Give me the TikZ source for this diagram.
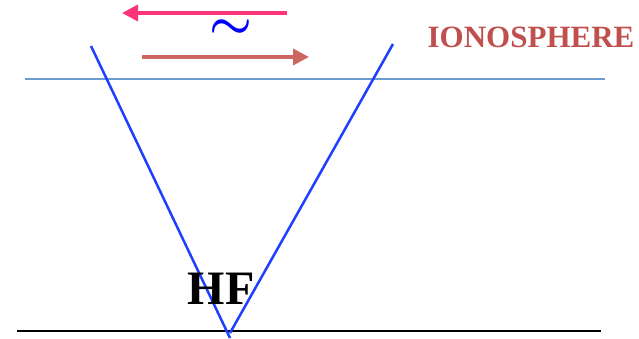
\documentclass[tikz,border=0pt]{standalone}
\usepackage{fontspec}
\setmainfont{Liberation Serif}
\usetikzlibrary{arrows.meta}
\definecolor{ionoblue}{HTML}{6B9BD1}
\definecolor{rayblue}{HTML}{1F3FFF}
\definecolor{wavepink}{HTML}{FF3377}
\definecolor{wavered}{HTML}{CD6660}
\definecolor{labelred}{HTML}{C0504D}

\begin{document}
\begin{tikzpicture}[x=1pt, y=-1pt,
    wave/.style={line width=3.5pt, -{Triangle[length=16pt, width=16pt]}}]
  \useasboundingbox (0, 0) rectangle (639, 339);
  \coordinate (I_1) at (25, 79);
  \coordinate (I_2) at (605, 79);
  \coordinate (G_1) at (17, 331);
  \coordinate (G_2) at (601, 331);
  \coordinate (L) at (91, 46);
  \coordinate (L_end) at (230, 338);
  \coordinate (R) at (393, 44);
  \coordinate (R_end) at (230, 333);
  \coordinate (P_1) at (287, 13);
  \coordinate (P_2) at (122, 13);
  \coordinate (Q_1) at (142, 57);
  \coordinate (Q_2) at (309, 57);

  \draw[ionoblue, line width=2.2pt] (I_1) -- (I_2);
  \draw[black, line width=2.5pt] (G_1) -- (G_2);
  \draw[rayblue, line width=2.5pt] (L) -- (L_end);
  \draw[rayblue, line width=2.5pt] (R) -- (R_end);
  \draw[wave, wavepink] (P_1) -- (P_2);
  \draw[wave, wavered] (Q_1) -- (Q_2);
  \node[text=blue, inner sep=0pt] (tilde) at (231, 29) {\scalebox{4.8}{\boldmath$\sim$}};
  \node[text=labelred, font=\fontsize{31}{31}\selectfont\bfseries] (iono) at (531, 37) {IONOSPHERE};
  \node[font=\fontsize{48}{48}\selectfont\bfseries] (hf) at (221, 289) {HF};
\end{tikzpicture}
\end{document}
